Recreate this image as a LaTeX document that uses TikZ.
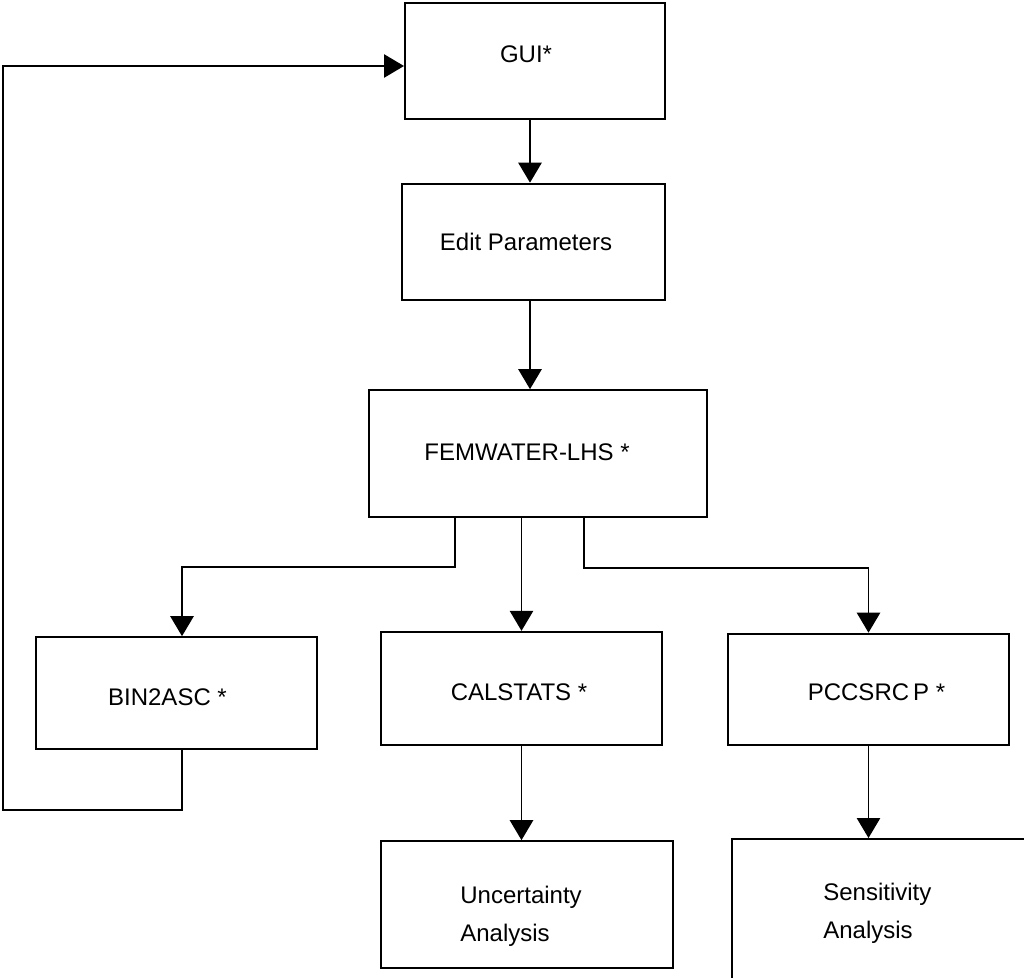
\documentclass[tikz,border=0pt]{standalone}
\usepackage{fontspec}
\setmainfont{Liberation Sans}
\usetikzlibrary{arrows.meta,calc}

\begin{document}
\begin{tikzpicture}[x=0.6pt, y=-0.6pt,
    %Option for nice arrows
    >={Triangle[width=14pt,length=12pt]},
    line/.style={line width=0.95pt},
    arr/.style={line, ->},
    box/.style={draw, line width=1.2pt, rectangle, inner sep=0pt},
    txt/.style={inner sep=0pt, align=left, font=\fontsize{14.4}{22.8}\selectfont},
]
    \useasboundingbox (0,0) rectangle (1024,977);

    % Boxes
    \node[box, minimum width=156pt, minimum height=70pt] (GUI) at (535,61) {};
    \node[box, minimum width=158pt, minimum height=70pt] (Edit) at (533.5,242) {};
    \node[box, minimum width=203pt, minimum height=76pt] (FEM) at (538,453.5) {};

    \node[box, minimum width=169pt, minimum height=67pt] (BIN) at (176.5,693) {};
    \node[box, minimum width=169pt, minimum height=68pt] (CAL) at (521.5,688.5) {};
    \node[box, minimum width=169pt, minimum height=67pt] (PCC) at (868.5,689.5) {};

    \node[box, minimum width=175pt, minimum height=76pt] (UNC) at (527,904.5) {};
    \node[box, minimum width=180pt, minimum height=90pt] (SEN) at (882,914) {};

    % Texts
    \node[txt] (GUItxt) at (526,54) {GUI*};
    \node[txt] (Edittxt) at (526,242) {Edit Parameters};
    \node[txt] (FEMtxt) at (527,452) {FEMWATER-LHS *};
    \node[txt] (BINtxt) at (167.5,697) {BIN2ASC *};
    \node[txt] (CALtxt) at (519,692) {CALSTATS *};
    \node[txt] (PCCtxt) at (876.5,692) {PCCSRC\,P *};
    \node[txt, anchor=west] (UNCtxt) at (460,916) {Uncertainty\\Analysis};
    \node[txt, anchor=west] (SENtxt) at (823,913) {Sensitivity\\Analysis};

    % Main chain
    \draw[arr] ($(GUI.south)+(-5,0)$) -- ($(Edit.north)+(-3.5,0)$);
    \draw[arr] ($(Edit.south)+(-3.5,0)$) -- ($(FEM.north)+(-8,0)$);

    % Branches below FEMWATER
    \draw[arr] ($(FEM.south)+(-83,0)$) -- ++(0,49) -| ($(BIN.north)+(5.5,0)$);
    \draw[arr] (CAL.north |- FEM.south) -- (CAL.north);
    \draw[arr] ($(FEM.south)+(46,0)$) -- ++(0,50) -| (PCC.north);

    \draw[arr] (CAL.south) -- (CAL.south |- UNC.north);
    \draw[arr] (PCC.south) -- (PCC.south |- SEN.north);

    % Feedback to GUI
    \coordinate (loop) at (3,810);
    \draw[arr] ($(BIN.south)+(5.5,0)$) |- (loop) |- ($(GUI.west)+(0,5)$);
\end{tikzpicture}
\end{document}
